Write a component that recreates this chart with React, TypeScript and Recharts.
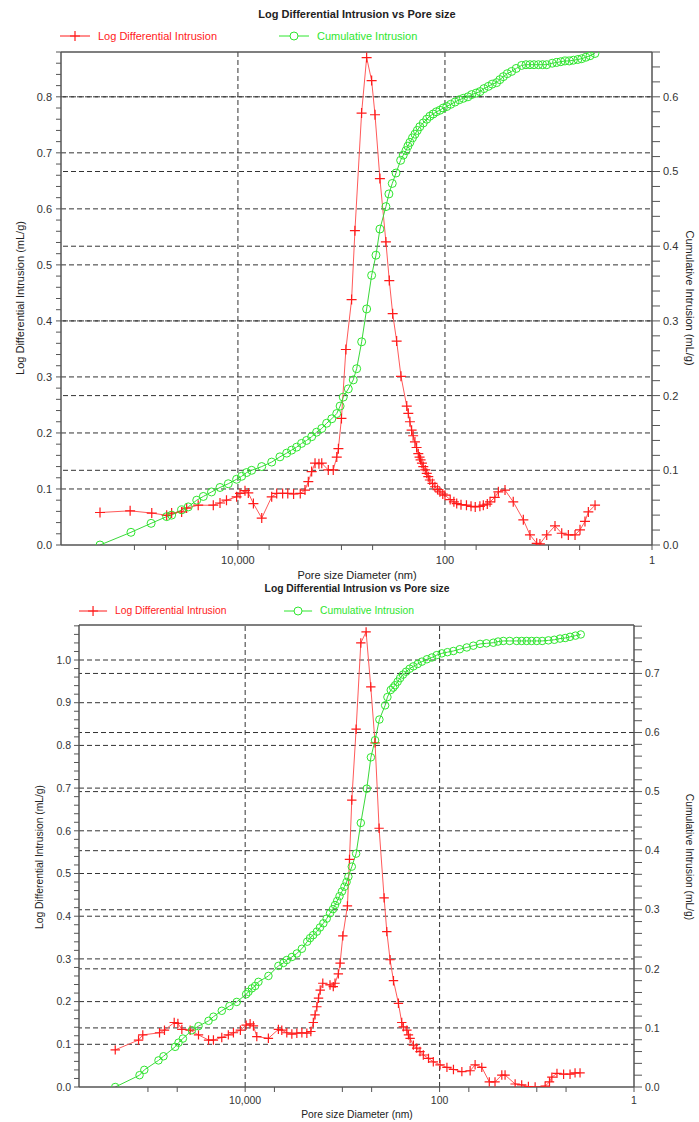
import React from "react";
import { ComposedChart, Line, XAxis, YAxis, ReferenceLine } from "recharts";

type Pt = { d: number; v: number };

// pore diameter ticks (nm), log axis, reversed
const xTicks = [100000, 50000, 10000, 5000, 1000, 500, 100, 50, 10, 5, 1];
const xLabels: Record<number, string> = { 10000: "10,000", 100: "100", 1: "1" };
const xGrid = [10000, 100];

const topLeftGrid = [0.1, 0.2, 0.3, 0.4, 0.5, 0.6, 0.7, 0.8];
const topRightGrid = [0.1, 0.2, 0.3, 0.4, 0.5, 0.6];
const bottomLeftGrid = [0.1, 0.2, 0.3, 0.4, 0.5, 0.6, 0.7, 0.8, 0.9, 1.0];
const bottomRightGrid = [0.1, 0.2, 0.3, 0.4, 0.5, 0.6, 0.7];

// sample 1: log differential intrusion (mL/g)
const topRed: Pt[] = [
  { d: 215000, v: 0.058 }, { d: 110000, v: 0.061 }, { d: 68000, v: 0.057 },
  { d: 48800, v: 0.053 }, { d: 43700, v: 0.057 }, { d: 35000, v: 0.059 },
  { d: 31300, v: 0.066 }, { d: 24200, v: 0.071 }, { d: 17300, v: 0.071 },
  { d: 14900, v: 0.075 }, { d: 12900, v: 0.08 }, { d: 10300, v: 0.086 },
  { d: 9550, v: 0.092 }, { d: 8550, v: 0.097 }, { d: 7940, v: 0.093 },
  { d: 7090, v: 0.074 }, { d: 5890, v: 0.048 }, { d: 4720, v: 0.086 },
  { d: 4220, v: 0.092 }, { d: 3700, v: 0.092 }, { d: 3300, v: 0.092 },
  { d: 2900, v: 0.091 }, { d: 2500, v: 0.092 }, { d: 2250, v: 0.098 },
  { d: 2090, v: 0.113 }, { d: 1940, v: 0.131 }, { d: 1800, v: 0.146 },
  { d: 1650, v: 0.145 }, { d: 1550, v: 0.146 }, { d: 1340, v: 0.134 },
  { d: 1200, v: 0.134 }, { d: 1110, v: 0.157 }, { d: 1070, v: 0.172 },
  { d: 1000, v: 0.226 }, { d: 906, v: 0.349 }, { d: 798, v: 0.438 },
  { d: 741, v: 0.561 }, { d: 639, v: 0.771 }, { d: 571, v: 0.87 },
  { d: 511, v: 0.829 }, { d: 474, v: 0.768 }, { d: 425, v: 0.654 },
  { d: 372, v: 0.541 }, { d: 345, v: 0.472 }, { d: 320, v: 0.413 },
  { d: 293, v: 0.364 }, { d: 266, v: 0.301 }, { d: 234, v: 0.248 },
  { d: 226, v: 0.235 }, { d: 218, v: 0.22 }, { d: 210, v: 0.205 },
  { d: 203, v: 0.195 }, { d: 195, v: 0.184 }, { d: 188, v: 0.174 },
  { d: 181, v: 0.163 }, { d: 176, v: 0.157 }, { d: 172, v: 0.152 },
  { d: 167, v: 0.146 }, { d: 162, v: 0.14 }, { d: 155, v: 0.134 },
  { d: 150, v: 0.128 }, { d: 145, v: 0.122 }, { d: 140, v: 0.116 },
  { d: 132, v: 0.11 }, { d: 125, v: 0.104 }, { d: 118, v: 0.099 },
  { d: 112, v: 0.095 }, { d: 105, v: 0.091 }, { d: 100, v: 0.089 },
  { d: 89, v: 0.081 }, { d: 82, v: 0.077 }, { d: 77, v: 0.074 },
  { d: 70, v: 0.072 }, { d: 62, v: 0.071 }, { d: 56, v: 0.069 },
  { d: 51, v: 0.068 }, { d: 46, v: 0.069 }, { d: 42.6, v: 0.071 },
  { d: 39, v: 0.073 }, { d: 36.7, v: 0.077 }, { d: 33, v: 0.085 },
  { d: 30.5, v: 0.095 }, { d: 26.3, v: 0.098 }, { d: 21.9, v: 0.077 },
  { d: 17.5, v: 0.045 }, { d: 15.1, v: 0.018 }, { d: 13.0, v: 0.003 },
  { d: 12.1, v: 0.002 }, { d: 10.4, v: 0.018 }, { d: 8.65, v: 0.034 },
  { d: 7.45, v: 0.021 }, { d: 6.43, v: 0.018 }, { d: 5.54, v: 0.018 },
  { d: 4.96, v: 0.027 }, { d: 4.44, v: 0.042 }, { d: 4.12, v: 0.059 },
  { d: 3.55, v: 0.071 },
];

// sample 1: cumulative intrusion (mL/g)
const topGreen: Pt[] = [
  { d: 215000, v: 0 }, { d: 108000, v: 0.017 }, { d: 69000, v: 0.029 },
  { d: 48800, v: 0.038 }, { d: 43700, v: 0.04 }, { d: 35000, v: 0.047 },
  { d: 30200, v: 0.051 }, { d: 25000, v: 0.06 }, { d: 21600, v: 0.065 },
  { d: 18000, v: 0.071 }, { d: 14900, v: 0.077 }, { d: 12400, v: 0.082 },
  { d: 10300, v: 0.088 }, { d: 9200, v: 0.092 }, { d: 8240, v: 0.097 },
  { d: 7370, v: 0.1 }, { d: 5890, v: 0.105 }, { d: 4720, v: 0.111 },
  { d: 3930, v: 0.118 }, { d: 3380, v: 0.123 }, { d: 3030, v: 0.127 },
  { d: 2710, v: 0.131 }, { d: 2430, v: 0.136 }, { d: 2170, v: 0.14 },
  { d: 1940, v: 0.145 }, { d: 1740, v: 0.151 }, { d: 1550, v: 0.156 },
  { d: 1390, v: 0.163 }, { d: 1240, v: 0.169 }, { d: 1110, v: 0.176 },
  { d: 1030, v: 0.186 }, { d: 961, v: 0.198 }, { d: 859, v: 0.209 },
  { d: 769, v: 0.221 }, { d: 713, v: 0.236 }, { d: 638, v: 0.272 },
  { d: 571, v: 0.316 }, { d: 511, v: 0.361 }, { d: 464, v: 0.388 },
  { d: 425, v: 0.423 }, { d: 372, v: 0.453 }, { d: 348, v: 0.47 },
  { d: 323, v: 0.484 }, { d: 297, v: 0.498 }, { d: 268, v: 0.515 },
  { d: 253, v: 0.522 }, { d: 238, v: 0.528 }, { d: 228, v: 0.534 },
  { d: 218, v: 0.539 }, { d: 206, v: 0.545 }, { d: 195, v: 0.55 },
  { d: 185, v: 0.555 }, { d: 175, v: 0.56 }, { d: 162, v: 0.565 },
  { d: 150, v: 0.57 }, { d: 140, v: 0.574 }, { d: 130, v: 0.577 },
  { d: 121, v: 0.58 }, { d: 112, v: 0.582 }, { d: 104, v: 0.585 },
  { d: 96, v: 0.587 }, { d: 88, v: 0.59 }, { d: 80, v: 0.593 },
  { d: 73, v: 0.596 }, { d: 66.5, v: 0.598 }, { d: 60, v: 0.6 },
  { d: 55.2, v: 0.603 }, { d: 50, v: 0.605 }, { d: 45.9, v: 0.607 },
  { d: 42, v: 0.611 }, { d: 38.1, v: 0.614 }, { d: 35, v: 0.617 },
  { d: 31.7, v: 0.619 }, { d: 29.5, v: 0.623 }, { d: 27.3, v: 0.627 },
  { d: 25, v: 0.631 }, { d: 22.7, v: 0.634 }, { d: 20.5, v: 0.638 },
  { d: 18.2, v: 0.642 }, { d: 16.5, v: 0.643 }, { d: 15.1, v: 0.643 },
  { d: 13.8, v: 0.643 }, { d: 12.5, v: 0.643 }, { d: 11.4, v: 0.643 },
  { d: 10.4, v: 0.643 }, { d: 9.2, v: 0.645 }, { d: 8.33, v: 0.646 },
  { d: 7.6, v: 0.647 }, { d: 6.93, v: 0.648 }, { d: 6.3, v: 0.648 },
  { d: 5.75, v: 0.649 }, { d: 5.2, v: 0.65 }, { d: 4.78, v: 0.651 },
  { d: 4.35, v: 0.653 }, { d: 3.97, v: 0.655 }, { d: 3.56, v: 0.658 },
];

// sample 2: log differential intrusion (mL/g)
const bottomRed: Pt[] = [
  { d: 217000, v: 0.087 }, { d: 125000, v: 0.11 }, { d: 113000, v: 0.122 },
  { d: 76000, v: 0.127 }, { d: 67600, v: 0.133 }, { d: 53700, v: 0.151 },
  { d: 49200, v: 0.149 }, { d: 44800, v: 0.135 }, { d: 36800, v: 0.133 },
  { d: 30200, v: 0.122 }, { d: 23800, v: 0.11 }, { d: 21200, v: 0.11 },
  { d: 17400, v: 0.116 }, { d: 14900, v: 0.122 }, { d: 13200, v: 0.127 },
  { d: 11200, v: 0.133 }, { d: 9770, v: 0.145 }, { d: 8890, v: 0.148 },
  { d: 8220, v: 0.143 }, { d: 7590, v: 0.118 }, { d: 5770, v: 0.114 },
  { d: 4550, v: 0.135 }, { d: 4200, v: 0.133 }, { d: 3730, v: 0.127 },
  { d: 3310, v: 0.124 }, { d: 2940, v: 0.126 }, { d: 2610, v: 0.127 },
  { d: 2320, v: 0.126 }, { d: 2110, v: 0.13 }, { d: 1990, v: 0.151 },
  { d: 1910, v: 0.169 }, { d: 1830, v: 0.188 }, { d: 1760, v: 0.208 },
  { d: 1690, v: 0.227 }, { d: 1590, v: 0.243 }, { d: 1340, v: 0.239 },
  { d: 1240, v: 0.235 }, { d: 1190, v: 0.243 }, { d: 1100, v: 0.265 },
  { d: 1055, v: 0.29 }, { d: 989, v: 0.354 }, { d: 887, v: 0.424 },
  { d: 845, v: 0.533 }, { d: 800, v: 0.672 }, { d: 722, v: 0.838 },
  { d: 646, v: 1.04 }, { d: 570, v: 1.066 }, { d: 510, v: 0.937 },
  { d: 461, v: 0.806 }, { d: 419, v: 0.606 }, { d: 372, v: 0.443 },
  { d: 349, v: 0.364 }, { d: 323, v: 0.298 }, { d: 298, v: 0.249 },
  { d: 265, v: 0.196 }, { d: 245, v: 0.151 }, { d: 236, v: 0.141 },
  { d: 217, v: 0.133 }, { d: 209, v: 0.122 }, { d: 201, v: 0.114 },
  { d: 186, v: 0.098 }, { d: 172, v: 0.091 }, { d: 159, v: 0.083 },
  { d: 147, v: 0.075 }, { d: 130, v: 0.067 }, { d: 116, v: 0.059 },
  { d: 98.9, v: 0.052 }, { d: 84, v: 0.046 }, { d: 72, v: 0.041 },
  { d: 59, v: 0.036 }, { d: 48.5, v: 0.038 }, { d: 43.1, v: 0.052 },
  { d: 36.8, v: 0.046 }, { d: 30.8, v: 0.012 }, { d: 26.9, v: 0.012 },
  { d: 22.9, v: 0.028 }, { d: 21.2, v: 0.028 }, { d: 16.7, v: 0.007 },
  { d: 14.3, v: 0.005 }, { d: 12.2, v: 0.001 }, { d: 10.4, v: 0 },
  { d: 8.2, v: 0.002 }, { d: 7.4, v: 0.012 }, { d: 7.0, v: 0.023 },
  { d: 6.2, v: 0.032 }, { d: 5.3, v: 0.03 }, { d: 4.55, v: 0.03 },
  { d: 4.04, v: 0.033 }, { d: 3.59, v: 0.033 },
];

// sample 2: cumulative intrusion (mL/g)
const bottomGreen: Pt[] = [
  { d: 217000, v: 0 }, { d: 122000, v: 0.02 }, { d: 109000, v: 0.029 },
  { d: 77900, v: 0.045 }, { d: 69200, v: 0.052 }, { d: 52500, v: 0.068 },
  { d: 48500, v: 0.075 }, { d: 43700, v: 0.082 }, { d: 35300, v: 0.096 },
  { d: 30200, v: 0.103 }, { d: 23800, v: 0.112 }, { d: 21200, v: 0.119 },
  { d: 17400, v: 0.129 }, { d: 14500, v: 0.137 }, { d: 12200, v: 0.144 },
  { d: 9770, v: 0.157 }, { d: 9250, v: 0.161 }, { d: 8530, v: 0.167 },
  { d: 7890, v: 0.171 }, { d: 7300, v: 0.178 }, { d: 5760, v: 0.188 },
  { d: 4550, v: 0.205 }, { d: 4040, v: 0.21 }, { d: 3730, v: 0.215 },
  { d: 3310, v: 0.22 }, { d: 2940, v: 0.226 }, { d: 2610, v: 0.234 },
  { d: 2300, v: 0.246 }, { d: 2150, v: 0.252 }, { d: 2000, v: 0.257 },
  { d: 1830, v: 0.263 }, { d: 1700, v: 0.27 }, { d: 1570, v: 0.277 },
  { d: 1450, v: 0.285 }, { d: 1340, v: 0.294 }, { d: 1250, v: 0.301 },
  { d: 1190, v: 0.308 }, { d: 1130, v: 0.315 }, { d: 1070, v: 0.323 },
  { d: 1010, v: 0.331 }, { d: 952, v: 0.339 }, { d: 905, v: 0.347 },
  { d: 867, v: 0.356 }, { d: 800, v: 0.373 }, { d: 722, v: 0.395 },
  { d: 646, v: 0.447 }, { d: 561, v: 0.505 }, { d: 509, v: 0.558 },
  { d: 461, v: 0.587 }, { d: 416, v: 0.622 }, { d: 363, v: 0.646 },
  { d: 344, v: 0.66 }, { d: 318, v: 0.672 }, { d: 300, v: 0.676 },
  { d: 287, v: 0.68 }, { d: 270, v: 0.686 }, { d: 255, v: 0.692 },
  { d: 238, v: 0.698 }, { d: 221, v: 0.703 }, { d: 203, v: 0.708 },
  { d: 186, v: 0.712 }, { d: 168, v: 0.716 }, { d: 152, v: 0.72 },
  { d: 135, v: 0.724 }, { d: 120, v: 0.727 }, { d: 107, v: 0.731 },
  { d: 94.9, v: 0.734 }, { d: 83, v: 0.736 }, { d: 72.1, v: 0.738 },
  { d: 62, v: 0.741 }, { d: 52.5, v: 0.744 }, { d: 45, v: 0.747 },
  { d: 38.3, v: 0.75 }, { d: 33, v: 0.751 }, { d: 28, v: 0.752 },
  { d: 25, v: 0.754 }, { d: 22.1, v: 0.755 }, { d: 19, v: 0.755 },
  { d: 16.1, v: 0.755 }, { d: 14.3, v: 0.755 }, { d: 12.7, v: 0.755 },
  { d: 11.3, v: 0.755 }, { d: 10, v: 0.755 }, { d: 8.8, v: 0.755 },
  { d: 7.6, v: 0.756 }, { d: 6.6, v: 0.757 }, { d: 5.77, v: 0.759 },
  { d: 5.1, v: 0.76 }, { d: 4.55, v: 0.762 }, { d: 4.0, v: 0.764 },
  { d: 3.53, v: 0.766 },
];

const FONT = '"Liberation Sans", Arial, sans-serif';
const RED = "#ff1a1a";
const GREEN = "#2ee62e";
const AXIS = "#555";
const GRID = "#333";

// minor ticks every 0.02 up to max
function minorTicks(max: number) {
  const out: number[] = [];
  for (let i = 0; i * 0.02 <= max + 1e-9; i++) out.push(Math.round(i * 2) / 100);
  return out;
}
const yFmt = (v: number) =>
  Math.abs(v * 10 - Math.round(v * 10)) < 1e-6 ? v.toFixed(1) : "";

const crossDot = (s: number) => (p: any) => {
  const { cx, cy, index } = p;
  if (cx == null || cy == null) return <g key={index} />;
  return (
    <path
      key={index}
      d={`M${cx - s},${cy}H${cx + s}M${cx},${cy - s}V${cy + s}`}
      stroke={RED}
      strokeWidth={1.2}
      fill="none"
    />
  );
};
const circleDot = (r: number) => (p: any) => {
  const { cx, cy, index } = p;
  if (cx == null || cy == null) return <g key={index} />;
  return <circle key={index} cx={cx} cy={cy} r={r} stroke={GREEN} strokeWidth={1} fill="none" />;
};

interface PanelProps {
  height: number;
  plotTop: number;
  leftW: number;
  rightW: number;
  xAxisH: number;
  leftMax: number;
  rightMax: number;
  leftGrid: number[];
  rightGrid: number[];
  red: Pt[];
  green: Pt[];
  fontSize: number;
  leftTick: [number, number];
  rightTick: [number, number];
  xTick: [number, number];
  markSize: number;
}

function Panel(p: PanelProps) {
  const tickStyle = { fontSize: p.fontSize, fill: "#333", fontFamily: FONT };
  const dash = { stroke: GRID, strokeDasharray: "5 3", strokeWidth: 1 };
  return (
    <ComposedChart
      width={699}
      height={p.height}
      margin={{ top: p.plotTop, right: 0, bottom: 0, left: 0 }}
    >
      <XAxis
        dataKey="d"
        type="number"
        scale="log"
        domain={[1, 512000]}
        reversed
        allowDataOverflow
        ticks={xTicks}
        interval={0}
        tickFormatter={(v: number) => xLabels[v] ?? ""}
        height={p.xAxisH}
        tickSize={p.xTick[0]}
        tickMargin={p.xTick[1]}
        tick={tickStyle}
        axisLine={{ stroke: AXIS, strokeWidth: 1.5 }}
        tickLine={{ stroke: AXIS }}
      />
      <YAxis
        yAxisId="left"
        orientation="left"
        type="number"
        domain={[0, p.leftMax]}
        allowDataOverflow
        ticks={minorTicks(p.leftMax)}
        interval={0}
        tickFormatter={yFmt}
        width={p.leftW}
        tickSize={p.leftTick[0]}
        tickMargin={p.leftTick[1]}
        tick={tickStyle}
        axisLine={{ stroke: AXIS, strokeWidth: 1.5 }}
        tickLine={{ stroke: AXIS }}
      />
      <YAxis
        yAxisId="right"
        orientation="right"
        type="number"
        domain={[0, p.rightMax]}
        allowDataOverflow
        ticks={minorTicks(p.rightMax)}
        interval={0}
        tickFormatter={yFmt}
        width={p.rightW}
        tickSize={p.rightTick[0]}
        tickMargin={p.rightTick[1]}
        tick={{ ...tickStyle, textAnchor: "start" }}
        axisLine={{ stroke: AXIS, strokeWidth: 1.5 }}
        tickLine={{ stroke: AXIS }}
      />
      {p.leftGrid.map((y) => (
        <ReferenceLine key={`l${y}`} yAxisId="left" y={y} {...dash} />
      ))}
      {p.rightGrid.map((y) => (
        <ReferenceLine key={`r${y}`} yAxisId="right" y={y} {...dash} />
      ))}
      {xGrid.map((x) => (
        <ReferenceLine key={`x${x}`} yAxisId="left" x={x} {...dash} />
      ))}
      <ReferenceLine yAxisId="left" y={p.leftMax} stroke={AXIS} strokeWidth={1.5} />
      <Line
        yAxisId="left"
        data={p.red}
        dataKey="v"
        type="linear"
        stroke="#ff5a5a"
        strokeWidth={1}
        dot={crossDot(p.markSize)}
        activeDot={false}
        isAnimationActive={false}
      />
      <Line
        yAxisId="right"
        data={p.green}
        dataKey="v"
        type="linear"
        stroke="#3ad83a"
        strokeWidth={1}
        dot={circleDot(p.markSize * 0.8)}
        activeDot={false}
        isAnimationActive={false}
      />
    </ComposedChart>
  );
}

const abs = (x: number, y: number, extra: React.CSSProperties = {}): React.CSSProperties => ({
  position: "absolute",
  left: x,
  top: y,
  whiteSpace: "nowrap",
  fontFamily: FONT,
  ...extra,
});

function Header({ y, fs, redX, greenX }: { y: number; fs: number; redX: number; greenX: number }) {
  const iconW = 30 * (fs / 11);
  return (
    <>
      <div style={abs(357, y - 29, { transform: "translateX(-50%)", fontSize: fs, fontWeight: "bold", color: "#222", lineHeight: "14px" })}>
        Log Differential Intrusion vs Pore size
      </div>
      <svg style={abs(redX, y - 6)} width={iconW + 1} height={12}>
        <line x1={0} y1={6} x2={iconW} y2={6} stroke={RED} strokeWidth={1} />
        <path d={`M${iconW / 2 - 5},6H${iconW / 2 + 5}M${iconW / 2},1V11`} stroke={RED} strokeWidth={1.2} />
      </svg>
      <div style={abs(redX + iconW + 8, y - 7, { fontSize: fs, color: RED, lineHeight: "14px" })}>
        Log Differential Intrusion
      </div>
      <svg style={abs(greenX, y - 6)} width={iconW + 1} height={12}>
        <line x1={0} y1={6} x2={iconW} y2={6} stroke={GREEN} strokeWidth={1} />
        <circle cx={iconW / 2} cy={6} r={4} stroke={GREEN} fill="#fff" strokeWidth={1} />
      </svg>
      <div style={abs(greenX + iconW + 8, y - 7, { fontSize: fs, color: GREEN, lineHeight: "14px" })}>
        Cumulative Intrusion
      </div>
    </>
  );
}

function AxisTitles({ xLabelY, leftX, rightX, midY, fs }: { xLabelY: number; leftX: number; rightX: number; midY: number; fs: number }) {
  const base = { fontSize: fs, color: "#222", lineHeight: "14px" };
  return (
    <>
      <div style={abs(357, xLabelY - 7, { ...base, transform: "translateX(-50%)" })}>
        Pore size Diameter (nm)
      </div>
      <div style={abs(leftX, midY, { ...base, transform: "translate(-50%,-50%) rotate(-90deg)" })}>
        Log Differential Intrusion (mL/g)
      </div>
      <div style={abs(rightX, midY, { ...base, transform: "translate(-50%,-50%) rotate(90deg)" })}>
        Cumulative Intrusion (mL/g)
      </div>
    </>
  );
}

export default function App() {
  return (
    <div style={{ position: "relative", width: 699, height: 1122, background: "#fff", overflow: "hidden" }}>
      <style>{"html,body{margin:0;padding:0;overflow:hidden}"}</style>
      <div style={{ position: "absolute", left: 0, top: 0 }}>
        <Panel
          height={582}
          plotTop={52}
          leftW={61}
          rightW={47}
          xAxisH={37}
          leftMax={0.88}
          rightMax={0.66}
          leftGrid={topLeftGrid}
          rightGrid={topRightGrid}
          red={topRed}
          green={topGreen}
          fontSize={11}
          leftTick={[5, 4]}
          rightTick={[8, 3]}
          xTick={[5, 6]}
          markSize={5}
        />
      </div>
      <div style={{ position: "absolute", left: 0, top: 582 }}>
        <Panel
          height={540}
          plotTop={43}
          leftW={79}
          rightW={65}
          xAxisH={35}
          leftMax={1.082}
          rightMax={0.782}
          leftGrid={bottomLeftGrid}
          rightGrid={bottomRightGrid}
          red={bottomRed}
          green={bottomGreen}
          fontSize={10.5}
          leftTick={[5, 3]}
          rightTick={[8, 3]}
          xTick={[5, 5]}
          markSize={4.7}
        />
      </div>
      <Header y={36} fs={11} redX={60} greenX={279} />
      <Header y={611} fs={10.3} redX={79} greenX={284} />
      <AxisTitles xLabelY={575} leftX={20} rightX={690} midY={298} fs={11} />
      <AxisTitles xLabelY={1115} leftX={40} rightX={689} midY={857} fs={10.3} />
    </div>
  );
}
